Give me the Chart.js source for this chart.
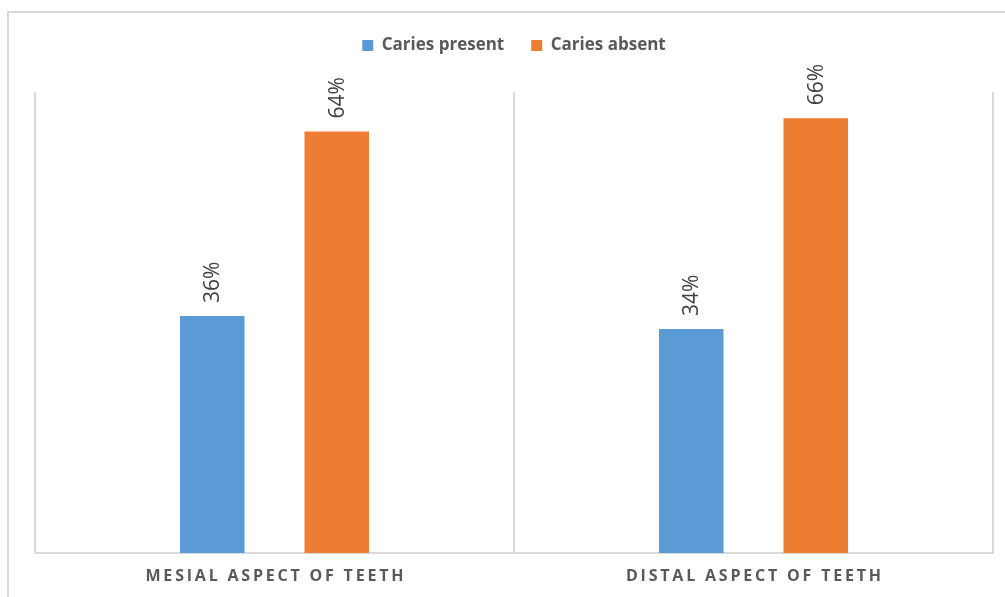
<!DOCTYPE html>
<html>
<head>
<meta charset="utf-8">
<script src="https://cdn.jsdelivr.net/npm/chart.js@4"></script>
<style>
    html, body { margin: 0; padding: 0; background: #fff; }
    #wrap { position: relative; width: 1005px; height: 597px; }
    #frame {
        position: absolute; left: 7px; top: 11px; right: -2px; bottom: -2px;
        border-left: 2px solid #d9d9d9; border-top: 2px solid #d9d9d9;
    }
    #chart { position: absolute; left: 0; top: 0; }
</style>
</head>
<body>
<div id="wrap">
    <div id="frame"></div>
    <canvas id="chart" width="1005" height="597"></canvas>
</div>
<script>
// Dados do gráfico
const categories = ['MESIAL ASPECT OF TEETH', 'DISTAL ASPECT OF TEETH'];
const cariesPresent = [36, 34];
const cariesAbsent = [64, 66];

// Rótulos rotacionados acima das barras
const barLabels = {
    id: 'barLabels',
    afterDatasetsDraw(chart) {
        const ctx = chart.ctx;
        ctx.save();
        ctx.font = '21px "Open Sans"';
        ctx.fillStyle = '#404040';
        ctx.textAlign = 'left';
        ctx.textBaseline = 'middle';
        chart.data.datasets.forEach((ds, i) => {
            chart.getDatasetMeta(i).data.forEach((bar, j) => {
                ctx.save();
                ctx.translate(bar.x + 1, bar.y - 13);
                ctx.rotate(-Math.PI / 2);
                ctx.fillText(ds.data[j] + '%', 0, 0);
                ctx.restore();
            });
        });
        ctx.restore();
    }
};

// Rótulos das categorias com espaçamento entre letras
const categoryLabels = {
    id: 'categoryLabels',
    afterDraw(chart) {
        const ctx = chart.ctx;
        const xScale = chart.scales.x;
        ctx.save();
        ctx.font = 'bold 16px "Open Sans"';
        ctx.letterSpacing = '2.8px';
        ctx.fillStyle = '#595959';
        ctx.textAlign = 'center';
        ctx.textBaseline = 'middle';
        chart.data.labels.forEach((label, i) => {
            ctx.fillText(label, xScale.getPixelForValue(i) + 1.4, xScale.bottom + 23);
        });
        ctx.restore();
    }
};

const ctx = document.getElementById('chart').getContext('2d');
new Chart(ctx, {
    type: 'bar',
    data: {
        labels: categories,
        datasets: [
            {
                label: 'Caries present',
                data: cariesPresent,
                backgroundColor: '#5B9BD5',
            },
            {
                label: 'Caries absent',
                data: cariesAbsent,
                backgroundColor: '#ED7D31',
            },
        ],
    },
    options: {
        responsive: false,
        animation: false,
        layout: {
            padding: { left: 35, right: 12, top: 10, bottom: 44 },
        },
        categoryPercentage: 0.52,
        barPercentage: 0.518,
        plugins: {
            legend: {
                position: 'top',
                labels: {
                    boxWidth: 11,
                    boxHeight: 11,
                    padding: 27,
                    color: '#595959',
                    font: { family: '"Open Sans"', size: 17, weight: 'bold' },
                },
            },
            // caixa vazia entre a legenda e a área do gráfico
            title: {
                display: true,
                text: '',
                weight: 500,
                font: { size: 10, lineHeight: 1 },
                padding: { top: 0, bottom: 18 },
            },
            tooltip: { enabled: false },
        },
        scales: {
            x: {
                grid: {
                    display: true,
                    offset: true,
                    drawTicks: false,
                    color: '#d9d9d9',
                    lineWidth: 2,
                },
                border: { display: true, color: '#d9d9d9', width: 2 },
                ticks: { display: false },
            },
            y: {
                display: false,
                min: 0,
                max: 70,
            },
        },
    },
    plugins: [barLabels, categoryLabels],
});
</script>
</body>
</html>
